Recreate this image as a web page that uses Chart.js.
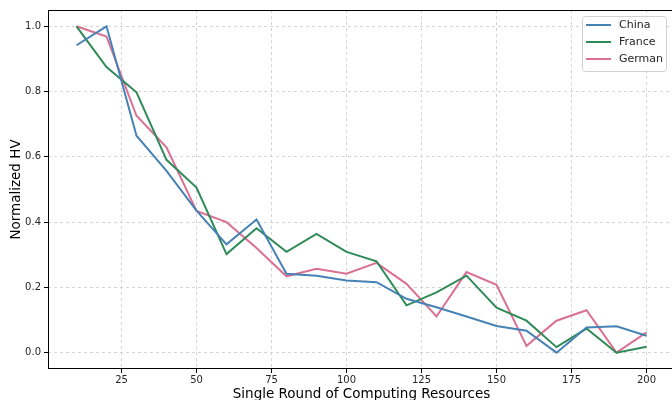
<!DOCTYPE html>
<html>
<head>
<meta charset="utf-8">
<script src="https://cdn.jsdelivr.net/npm/chart.js@4/dist/chart.umd.min.js"></script>
<style>
  html, body { margin: 0; padding: 0; background: #fff; overflow: hidden; }
  #wrap { width: 676px; height: 400px; }
</style>
</head>
<body>
<div id="wrap"><canvas id="hvChart" width="676" height="400"></canvas></div>
<script>
const rounds = [10, 20, 30, 40, 50, 60, 70, 80, 90, 100, 110, 120, 130, 140, 150, 160, 170, 180, 190, 200];
const china  = [0.942, 1.0, 0.665, 0.557, 0.435, 0.332, 0.408, 0.242, 0.236, 0.221, 0.216, 0.165, 0.139, 0.111, 0.082, 0.067, 0.0, 0.077, 0.081, 0.052];
const france = [1.0, 0.875, 0.798, 0.591, 0.506, 0.302, 0.381, 0.309, 0.364, 0.309, 0.28, 0.145, 0.185, 0.236, 0.138, 0.098, 0.017, 0.074, 0.0, 0.018];
const german = [1.0, 0.969, 0.726, 0.629, 0.434, 0.400, 0.321, 0.234, 0.257, 0.242, 0.275, 0.211, 0.111, 0.247, 0.208, 0.021, 0.098, 0.130, 0.0, 0.062];
const xTicks = [25, 50, 75, 100, 125, 150, 175, 200];
const yTicks = [0.0, 0.2, 0.4, 0.6, 0.8, 1.0];

const FONT = "'DejaVu Sans', sans-serif";

function series(label, values, color) {
    return {
        label: label,
        data: rounds.map((r, i) => ({ x: r, y: values[i] })),
        borderColor: color,
        backgroundColor: color,
        borderWidth: 2,
        pointRadius: 0,
        tension: 0
    };
}

// frame + legend box drawn by hand, matplotlib style
const framePlugin = {
    id: "frame",
    afterDraw(chart) {
        const ctx = chart.ctx;
        const a = chart.chartArea;
        ctx.save();
        ctx.strokeStyle = "#000";
        ctx.lineWidth = 1;
        ctx.strokeRect(a.left + 0.5, a.top + 0.5, a.right - a.left - 1, a.bottom - a.top - 1);

        // legend
        const x0 = 582, y0 = 16, w = 84, h = 55;
        ctx.fillStyle = "rgba(255,255,255,0.8)";
        ctx.strokeStyle = "#d0d0d0";
        ctx.beginPath();
        ctx.roundRect(x0 + 0.5, y0 + 0.5, w, h, 3);
        ctx.fill();
        ctx.stroke();
        ctx.font = "11px " + FONT;
        ctx.textBaseline = "middle";
        chart.data.datasets.forEach((ds, i) => {
            const y = 25 + i * 17;
            ctx.strokeStyle = ds.borderColor;
            ctx.lineWidth = 2;
            ctx.beginPath();
            ctx.moveTo(586, y);
            ctx.lineTo(611, y);
            ctx.stroke();
            ctx.fillStyle = "#262626";
            ctx.fillText(ds.label, 619, y);
        });
        ctx.restore();
    }
};

const ctx = document.getElementById("hvChart").getContext("2d");
new Chart(ctx, {
    type: "line",
    data: {
        datasets: [
            series("China", china, "#4682b4"),
            series("France", france, "#2e8b57"),
            series("German", german, "#db7093")
        ]
    },
    options: {
        responsive: false,
        animation: false,
        layout: { padding: { left: 0, right: 1, top: 10, bottom: 0 } },
        plugins: {
            legend: { display: false },
            tooltip: { enabled: false }
        },
        scales: {
            x: {
                type: "linear",
                min: 0.5,
                max: 209.5,
                afterBuildTicks: scale => { scale.ticks = xTicks.map(v => ({ value: v })); },
                afterFit: scale => { scale.height = 31; },
                grid: {
                    color: "#d4d4d4",
                    tickColor: "#000",
                    tickBorderDash: [],
                    tickLength: 4
                },
                border: { display: false, dash: [3, 3] },
                ticks: {
                    color: "#262626",
                    font: { family: FONT, size: 10 },
                    padding: 1,
                    maxRotation: 0,
                    callback: v => String(v)
                },
                title: {
                    display: true,
                    text: "Single Round of Computing Resources",
                    color: "#000",
                    font: { family: FONT, size: 13.5 },
                    padding: { top: 1, bottom: -3 }
                }
            },
            y: {
                min: -0.05,
                max: 1.05,
                afterBuildTicks: scale => { scale.ticks = yTicks.map(v => ({ value: v })); },
                afterFit: scale => { scale.width = 48; },
                grid: {
                    color: "#d4d4d4",
                    tickColor: "#000",
                    tickBorderDash: [],
                    tickLength: 4
                },
                border: { display: false, dash: [3, 3] },
                ticks: {
                    color: "#262626",
                    font: { family: FONT, size: 10 },
                    padding: 3,
                    callback: v => v.toFixed(1)
                },
                title: {
                    display: true,
                    text: "Normalized HV",
                    color: "#000",
                    font: { family: FONT, size: 13.5 },
                    padding: { top: 8, bottom: 0 }
                }
            }
        }
    },
    plugins: [framePlugin]
});
</script>
</body>
</html>
